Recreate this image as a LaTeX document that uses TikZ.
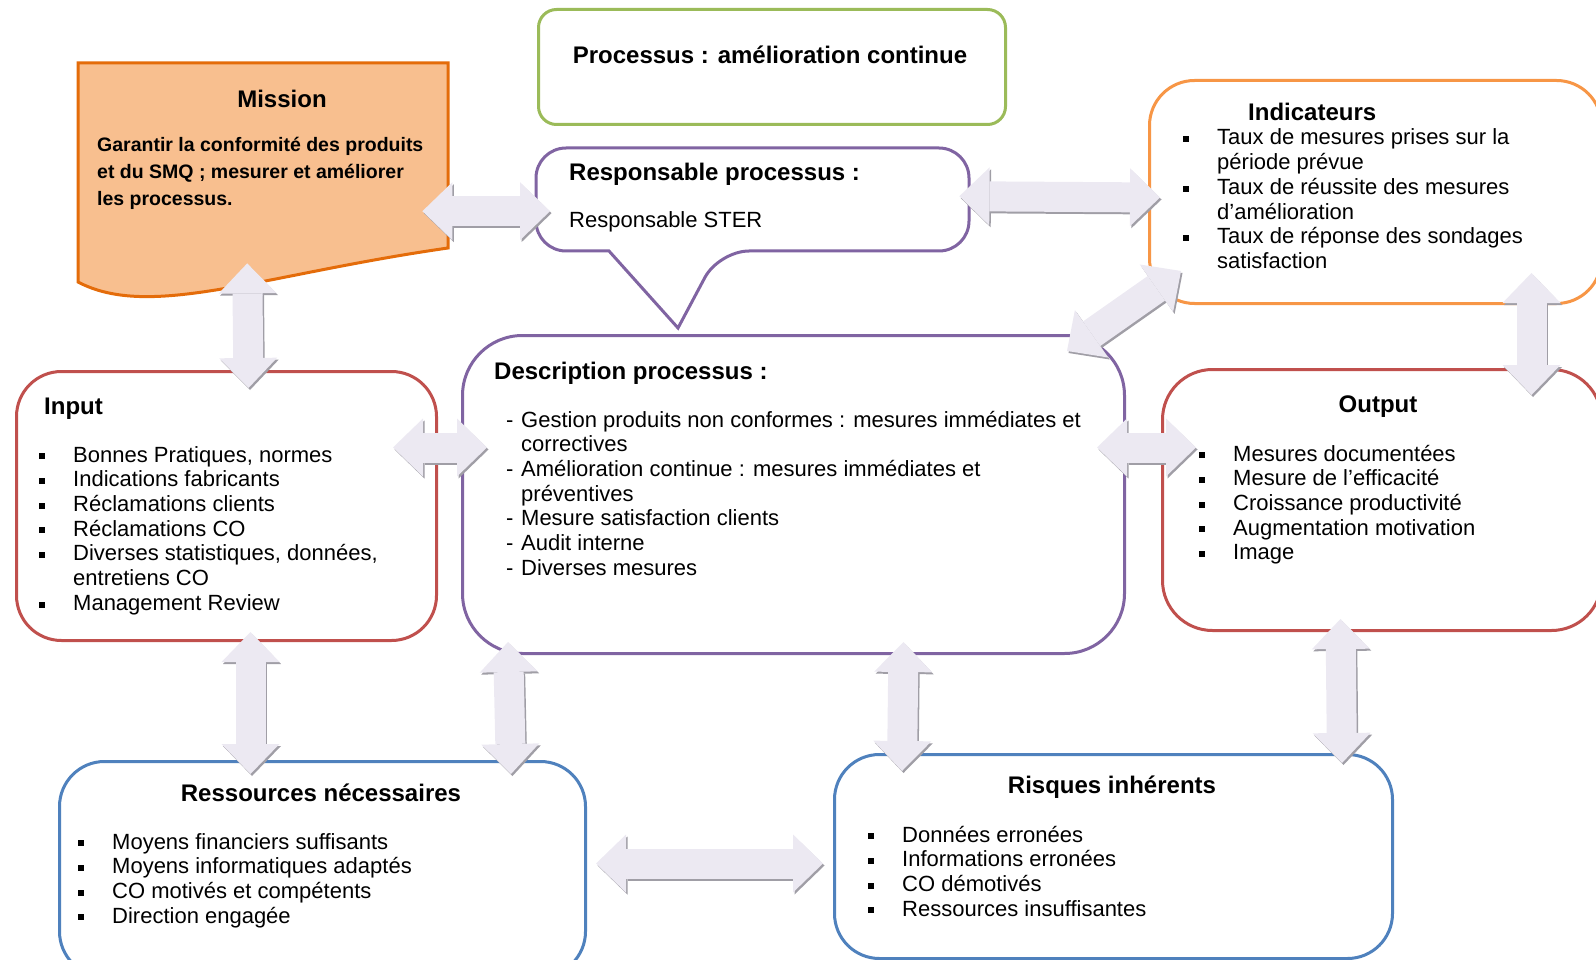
\documentclass[tikz,border=0pt]{standalone}
\usepackage{fontspec}
\setmainfont{Liberation Sans}
\usetikzlibrary{arrows.meta}

\definecolor{boxgreen}{HTML}{9BBB59}
\definecolor{boxorange}{HTML}{F79646}
\definecolor{missionline}{HTML}{E46C0A}
\definecolor{missionfill}{HTML}{F8BF8F}
\definecolor{boxpurple}{HTML}{8064A2}
\definecolor{boxred}{HTML}{C0504D}
\definecolor{boxblue}{HTML}{4F81BD}
\definecolor{arrowfill}{HTML}{ECE9F2}
\definecolor{arrowshadow}{HTML}{A09EA6}

\newcommand\lst[1]{\begin{tabular}[t]{@{}l@{}}#1\end{tabular}}
\newcommand\itm[1]{\makebox[34pt][l]{\rule[2.7pt]{6pt}{6pt}}#1}
\newcommand\cont[1]{\hspace*{34pt}#1}
\newcommand\tiret[1]{\makebox[15pt][l]{-}#1}
\newcommand\biarrow[2]{%
  \draw[arrowshade] #1 -- #2;
  \draw[arrowbody] #1 -- #2;}

\tikzset{
  box/.style={draw=#1, line width=3pt, fill=white, rounded corners=45pt, anchor=north west, inner sep=0pt},
  ttl/.style={inner sep=0pt, font=\fontsize{24}{28}\selectfont\bfseries},
  txt/.style={anchor=base west, inner sep=0pt, font=\fontsize{22}{24.7}\selectfont},
  arrowbody/.style={line width=30pt, color=arrowfill, >={Triangle[width=58pt,length=30pt,line width=0pt]}, <->},
  arrowshade/.style={arrowbody, color=arrowshadow, transform canvas={shift={(1.5pt,-2pt)}}},
}

\begin{document}
\begin{tikzpicture}[x=1pt, y=-1pt]
\useasboundingbox (0,0) rectangle (1596,960);

% boxes
\node[box=boxgreen, rounded corners=18pt, minimum width=467pt, minimum height=115pt] (process) at (537,8) {};
\filldraw[draw=missionline, fill=missionfill, line width=3pt] (78,63) -- (448,63) -- (448,248) .. controls (260,275) and (150,320) .. (78,282) -- cycle;
\node[anchor=north west, inner sep=0pt, minimum width=370pt, minimum height=187pt] (mission) at (78,63) {};
\node[anchor=north west, inner sep=0pt, minimum width=433pt, minimum height=103pt] (resp) at (536,148) {};
\filldraw[draw=boxpurple, fill=white, line width=3pt] (609,251) [rounded corners=30pt] -- (536,251) -- (536,148) -- (969,148) -- (969,251) -- (719,251) [sharp corners] -- (678,328) -- cycle;
\node[box=boxorange, minimum width=452pt, minimum height=223pt] (indic) at (1148,79) {};
\node[box=boxred, minimum width=420pt, minimum height=269pt] (input) at (15,370) {};
\node[box=boxpurple, rounded corners=60pt, minimum width=662pt, minimum height=318pt] (desc) at (461,334) {};
\node[box=boxred, rounded corners=50pt, minimum width=439pt, minimum height=261pt] (output) at (1161,368) {};
\node[box=boxblue, minimum width=526pt, minimum height=215pt] (res) at (58,760) {};
\node[box=boxblue, minimum width=558pt, minimum height=204pt] (risk) at (833,753) {};

% arrows
\biarrow{([shift={(-26,54.5)}]mission.east)}{([shift={(14,11.5)}]resp.west)}
\biarrow{([shift={(-10,-3.5)}]resp.east)}{([shift={(12,5.5)}]indic.west)}
\biarrow{([shift={(-59,17)}]desc.north east)}{([shift={(33,-34)}]indic.south west)}
\biarrow{([shift={(156,-32)}]indic.south)}{([shift={(149.5,27)}]output.north)}
\biarrow{([shift={(-16,13)}]mission.south)}{([shift={(22,18)}]input.north)}
\biarrow{([shift={(-45,-58.5)}]input.east)}{([shift={(26,-47)}]desc.west)}
\biarrow{([shift={(-29,-47)}]desc.east)}{([shift={(35,-52.5)}]output.west)}
\biarrow{([shift={(24,-10)}]input.south)}{([shift={(-72,14)}]res.north)}
\biarrow{([shift={(47,-13)}]desc.south west)}{([shift={(-76,14)}]res.north east)}
\biarrow{([shift={(110,-13)}]desc.south)}{([shift={(69,18)}]risk.north west)}
\biarrow{([shift={(-41.5,-13)}]output.south)}{([shift={(-52,10)}]risk.north east)}
\biarrow{([shift={(9,-5.5)}]res.east)}{([shift={(-10,7)}]risk.west)}

% texts
\node[ttl, anchor=base] (process-t) at (770,64) {Processus : amélioration continue};
\node[ttl, anchor=base] (mission-t) at (282,108) {Mission};
\node[anchor=base west, inner sep=0pt, font=\fontsize{19.5}{26.8}\selectfont\bfseries] (mission-b) at (97,152)
  {\lst{Garantir la conformité des produits\\ et du SMQ ; mesurer et améliorer\\ les processus.}};
\node[ttl, anchor=base west] (resp-t) at (569,181) {Responsable processus :};
\node[txt] (resp-b) at (569,228) {Responsable STER};
\node[ttl, anchor=base west] (indic-t) at (1248,121) {Indicateurs};
\node[txt] (indic-b) at (1183,145) {\lst{\itm{Taux de mesures prises sur la}\\ \cont{période prévue}\\
  \itm{Taux de réussite des mesures}\\ \cont{d’amélioration}\\
  \itm{Taux de réponse des sondages}\\ \cont{satisfaction}}};
\node[ttl, anchor=base west] (input-t) at (44,414) {Input};
\node[txt] (input-b) at (39,462) {\lst{\itm{Bonnes Pratiques, normes}\\ \itm{Indications fabricants}\\
  \itm{Réclamations clients}\\ \itm{Réclamations CO}\\ \itm{Diverses statistiques, données,}\\
  \cont{entretiens CO}\\ \itm{Management Review}}};
\node[ttl, anchor=base west] (desc-t) at (494,379) {Description processus :};
\node[txt] (desc-b) at (506,427) {\lst{\tiret{Gestion produits non conformes : mesures immédiates et}\\
  \hspace*{15pt}correctives\\ \tiret{Amélioration continue : mesures immédiates et}\\ \hspace*{15pt}préventives\\
  \tiret{Mesure satisfaction clients}\\ \tiret{Audit interne}\\ \tiret{Diverses mesures}}};
\node[ttl, anchor=base] (output-t) at (1378,412) {Output};
\node[txt] (output-b) at (1199,461) {\lst{\itm{Mesures documentées}\\ \itm{Mesure de l’efficacité}\\
  \itm{Croissance productivité}\\ \itm{Augmentation motivation}\\ \itm{Image}}};
\node[ttl, anchor=base] (res-t) at (321,801) {Ressources nécessaires};
\node[txt] (res-b) at (78,849) {\lst{\itm{Moyens financiers suffisants}\\ \itm{Moyens informatiques adaptés}\\
  \itm{CO motivés et compétents}\\ \itm{Direction engagée}}};
\node[ttl, anchor=base] (risk-t) at (1112,793) {Risques inhérents};
\node[txt] (risk-b) at (868,842) {\lst{\itm{Données erronées}\\ \itm{Informations erronées}\\
  \itm{CO démotivés}\\ \itm{Ressources insuffisantes}}};
\end{tikzpicture}
\end{document}
